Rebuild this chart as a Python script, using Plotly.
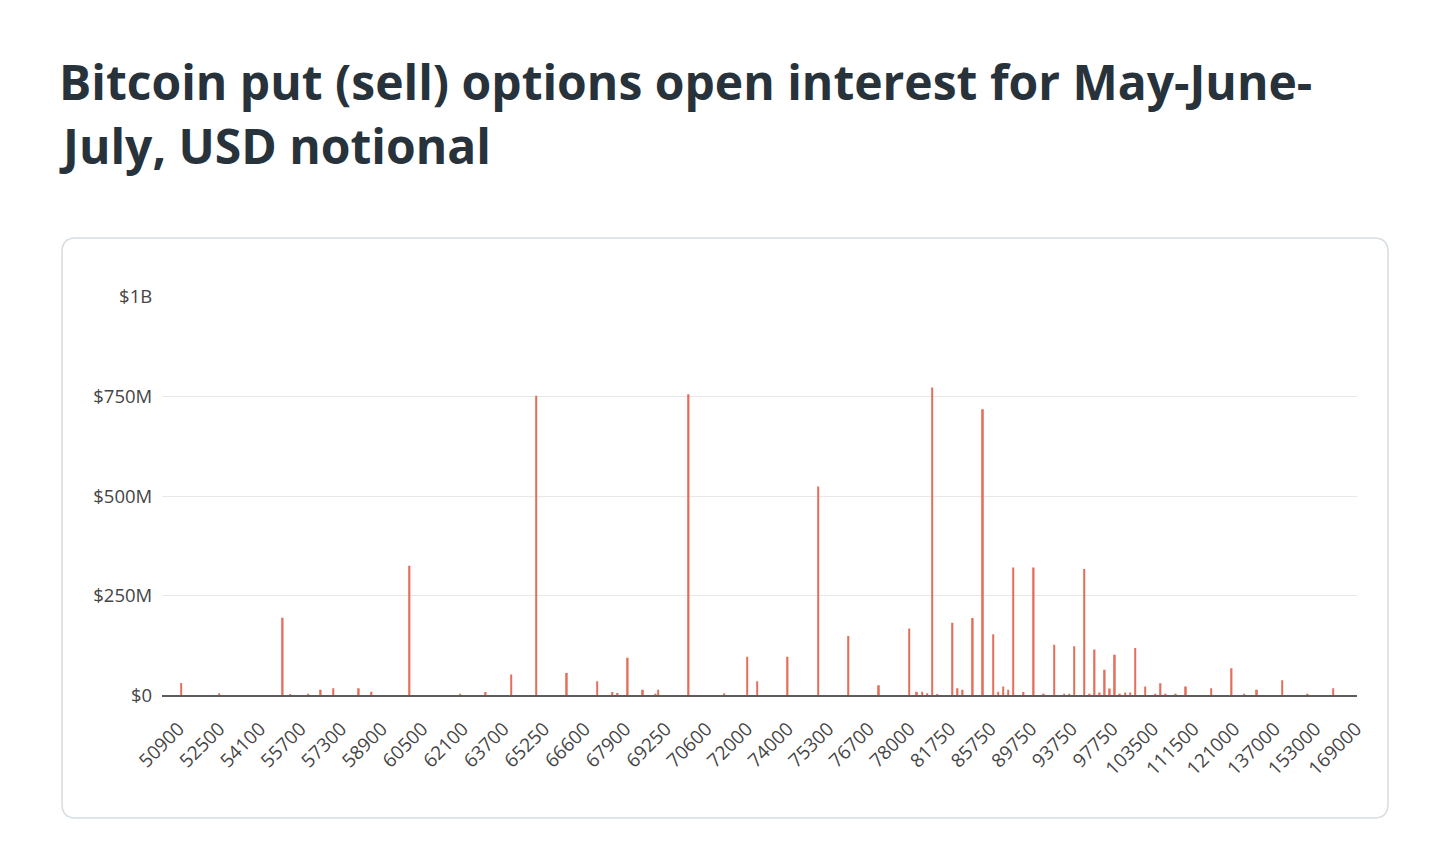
import plotly.graph_objects as go

# ---------------- data ----------------
title_line1 = "Bitcoin put (sell) options open interest for May-June-"
title_line2 = "July, USD notional"

# strike grid (categories), in ascending order
strikes_pre = [47000, 48000, 49000, 50000, 50500, 50800]
strikes_100 = list(range(50900, 65300, 100))          # 50900 .. 65200, exchange grid of 100
strikes_mid = [
    65250, 65300, 65400, 65500, 65600, 65700, 65750, 65800, 65900, 66000, 66100, 66200, 66250, 66300, 66400, 66500,
    66600, 66700, 66750, 66800, 66900, 67000, 67100, 67200, 67250, 67300, 67400, 67500, 67600, 67700, 67750, 67800,
    67900, 68000, 68100, 68200, 68250, 68300, 68400, 68500, 68600, 68700, 68750, 68800, 68900, 69000, 69100, 69200,
    69250, 69300, 69400, 69500, 69600, 69700, 69750, 69800, 69900, 70000, 70100, 70200, 70250, 70300, 70400, 70500,
    70600, 70700, 70750, 70800, 70900, 71000, 71100, 71200, 71250, 71300, 71400, 71500, 71600, 71700, 71750, 71800,
    72000, 72100, 72200, 72250, 72500, 72600, 72750, 72800, 73000, 73200, 73250, 73400, 73500, 73600, 73750, 73800,
    74000, 74100, 74200, 74250, 74300, 74400, 74500, 74600, 74700, 74750, 74800, 74900, 75000, 75100, 75200, 75250,
    75300, 75400, 75500, 75600, 75700, 75750, 75800, 75900, 76000, 76100, 76200, 76250, 76300, 76400, 76500, 76600,
    76700, 76750, 76800, 76900, 77000, 77100, 77200, 77250, 77300, 77400, 77500, 77600, 77700, 77750, 77800, 77900,
    78000, 78200, 78250, 78500, 78750, 79000, 79250, 79500, 79750, 80000, 80250, 80500, 80750, 81000, 81250, 81500,
]
strikes_250 = list(range(81750, 100250, 250))         # 81750 .. 100000
strikes_500 = list(range(100500, 111500, 500))        # 100500 .. 111000
strikes_hi = [111500, 112000, 112500, 113000, 113500, 114000, 114500, 115000,
              115500, 116000, 117000, 118000, 118500, 119000, 119500, 120000]
strikes_1000 = list(range(121000, 170000, 1000))      # 121000 .. 169000
strikes = strikes_pre + strikes_100 + strikes_mid + strikes_250 + strikes_500 + strikes_hi + strikes_1000

# put open interest, USD millions (strikes not listed are 0)
oi_strikes = [51000, 52500, 55000, 55300, 56000, 56500, 57000, 58000, 58500, 60000,
              62000, 63000, 64000, 65000, 66000, 67000, 67500, 67700, 68000, 68500,
              68900, 69000, 70000, 71200, 72000, 72500, 74000, 75000, 76000, 77000,
              78000, 78500, 79000, 79500, 80000, 80500, 82000, 82500, 83000, 84000,
              85000, 86000, 86500, 87000, 87500, 88000, 89000, 90000, 91000, 92000,
              93000, 93500, 94000, 95000, 95500, 96000, 96500, 97000, 97500, 98000,
              98500, 99000, 99500, 100000, 102000, 104000, 105000, 106000, 108000, 110000,
              115000, 120000, 125000, 130000, 140000, 150000, 160000]
oi_usd_m = [31, 5, 195, 3, 4, 14, 18, 18, 9, 325,
            4, 8, 52, 752, 56, 35, 8, 6, 94, 14,
            4, 14, 756, 5, 97, 35, 97, 524, 149, 25,
            168, 9, 9, 5, 773, 3, 182, 18, 14, 194,
            718, 153, 9, 22, 14, 321, 8, 321, 4, 127,
            4, 4, 123, 317, 4, 115, 7, 64, 17, 102,
            4, 7, 7, 119, 22, 4, 30, 4, 4, 22,
            18, 68, 4, 14, 38, 4, 18]

x_tick_labels = [50900, 52500, 54100, 55700, 57300, 58900, 60500, 62100, 63700, 65250,
                 66600, 67900, 69250, 70600, 72000, 74000, 75300, 76700, 78000, 81750,
                 85750, 89750, 93750, 97750, 103500, 111500, 121000, 137000, 153000, 169000]
y_tick_vals = [0, 250, 500, 750, 1000]
y_tick_text = ["$0", "$250M", "$500M", "$750M", "$1B"]

# ---------------- build ----------------
oi_map = dict(zip(oi_strikes, oi_usd_m))
values = [oi_map.get(s, 0) for s in strikes]
cats = [str(s) for s in strikes]

W, H = 1450, 845
def px(x):
    return x / W
def py(y):
    return 1 - y / H

fig = go.Figure(go.Bar(
    x=cats, y=values,
    marker=dict(color="#e46e5a", line=dict(width=0)),
    hovertemplate="%{x}: $%{y}M<extra></extra>",
))

# rounded card frame
x0, y0, x1, y1, r = 62, 238, 1388, 818, 14
card = (f"M {px(x0+r)},{py(y0)} L {px(x1-r)},{py(y0)} Q {px(x1)},{py(y0)} {px(x1)},{py(y0+r)} "
        f"L {px(x1)},{py(y1-r)} Q {px(x1)},{py(y1)} {px(x1-r)},{py(y1)} "
        f"L {px(x0+r)},{py(y1)} Q {px(x0)},{py(y1)} {px(x0)},{py(y1-r)} "
        f"L {px(x0)},{py(y0+r)} Q {px(x0)},{py(y0)} {px(x0+r)},{py(y0)} Z")

fig.update_layout(
    width=W, height=H,
    margin=dict(l=0, r=0, t=0, b=0, autoexpand=False),
    paper_bgcolor="white", plot_bgcolor="white",
    showlegend=False,
    bargap=0.36,
    font=dict(family="Open Sans, Noto Sans, sans-serif", color="#454545"),
    shapes=[dict(type="path", path=card, xref="paper", yref="paper",
                 line=dict(color="#d5dde2", width=1.5), fillcolor="rgba(0,0,0,0)", layer="below")],
    annotations=[
        dict(text=f"<b>{title_line1}</b>", x=px(57), y=py(82), xref="paper", yref="paper",
             xanchor="left", yanchor="middle", showarrow=False,
             font=dict(family="Open Sans, sans-serif", size=48, color="#27323b")),
        dict(text=f"<b>{title_line2}</b>", x=px(57), y=py(146), xref="paper", yref="paper",
             xanchor="left", yanchor="middle", showarrow=False,
             font=dict(family="Open Sans, sans-serif", size=48, color="#27323b")),
    ],
)

fig.update_xaxes(
    type="category", categoryorder="array", categoryarray=cats,
    domain=[px(162.2), px(1357.2)], automargin=False,
    tickmode="array", tickvals=[str(v) for v in x_tick_labels], ticktext=[str(v) for v in x_tick_labels],
    tickangle=-45, tickfont=dict(size=19, color="#454545"),
    showgrid=False, showline=True, linecolor="#5c5c5c", linewidth=2,
    ticks="", ticklabelstandoff=13, fixedrange=True,
)
fig.update_yaxes(
    domain=[py(695.3), py(297)], automargin=False,
    range=[0, 1000],
    tickmode="array", tickvals=y_tick_vals, ticktext=y_tick_text,
    tickfont=dict(size=18.5, color="#454545"),
    showgrid=True, gridcolor="#e8e8e8", gridwidth=1,
    zeroline=False, ticks="", ticklabelstandoff=9, fixedrange=True,
)

fig.write_html(
    "out.html",
    config={"displayModeBar": False},
    post_script="document.body.style.margin='0';document.body.style.overflow='hidden';",
)
